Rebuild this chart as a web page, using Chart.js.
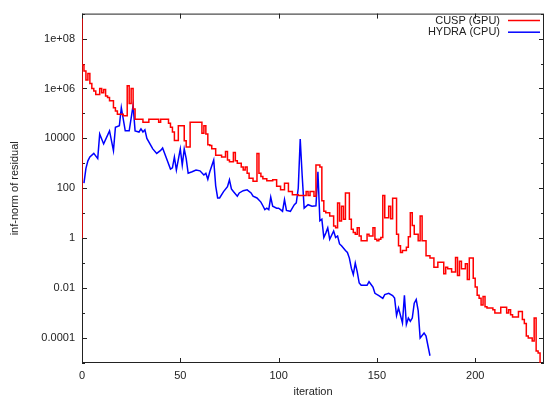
<!DOCTYPE html>
<html>
<head>
<meta charset="utf-8">
<script src="https://cdn.jsdelivr.net/npm/chart.js@4/dist/chart.umd.min.js"></script>
<style>
  body { margin: 0; background: #fff; }
  #residual-chart { display: block; }
</style>
</head>
<body>
<canvas id="residual-chart" width="546" height="401"></canvas>
<script>
// CUSP (GPU): residual per iteration (drawn as steps)
const cuspIter = [0, 0, 1, 2, 3, 4, 5, 6, 7, 9, 10, 11, 12, 13, 14, 16, 17, 18, 21, 23,
  24, 25, 26, 27, 31, 34, 39, 40, 44, 45, 46, 47, 49, 52, 53, 55, 61, 62, 63, 64,
  65, 66, 68, 71, 73, 74, 75, 77, 78, 79, 81, 82, 83, 84, 85, 87, 89, 90, 91, 92,
  94, 97, 99, 101, 103, 105, 107, 110, 114, 115, 116, 118, 119, 121, 122, 123, 124, 126, 128, 129,
  130, 131, 132, 133, 134, 136, 137, 138, 139, 140, 141, 142, 145, 146, 148, 149, 150, 151, 152, 153,
  154, 156, 157, 158, 160, 161, 162, 163, 165, 166, 167, 168, 169, 171, 172, 173, 175, 177, 179, 181,
  184, 185, 186, 188, 190, 191, 192, 193, 195, 196, 197, 199, 200, 201, 202, 203, 204, 205, 206, 209,
  210, 213, 216, 217, 218, 219, 222, 224, 225, 226, 227, 229, 230, 231, 232, 233, 234]
const cuspResidual = [1, 6.3e8, 8.7e6, 5e6, 2.2e6, 4e6, 1.6e6, 1e6, 8e5, 5.8e5, 1e6, 6.8e5, 9e5, 5e5, 4.3e5, 3.2e5, 1.7e5, 1.26e5, 9.3e4, 8e4,
  1.3e6, 2.5e5, 1e6, 1.5e5, 5.9e4, 4.4e4, 5.9e4, 4.4e4, 5.9e4, 4e4, 2.8e4, 1.8e4, 8.3e3, 3.2e4, 8e3, 4.5e3, 4.4e4, 1.6e4, 3.2e4, 1.5e4,
  5.5e3, 5.2e3, 3.8e3, 2.1e3, 1.8e3, 3e3, 1.35e3, 1.15e3, 2.7e3, 1.26e3, 1e3, 720, 540, 720, 400, 250, 190, 2.5e3, 400, 300,
  240, 200, 220, 120, 87, 160, 74, 55, 52, 74, 52, 74, 48, 850, 720, 32, 12, 10.5, 7.8, 3.1,
  2.6, 26, 4.9, 19, 5.8, 65, 5.8, 2.3, 1.7, 1.45, 2.6, 1.23, 0.8, 1.45, 1.23, 2.6, 0.9, 0.8, 0.9, 1.07,
  52, 6.6, 19, 6, 40, 1.45, 0.5, 0.27, 0.32, 0.43, 1.15, 10.5, 3.2, 1.45, 0.8, 7.8, 0.8, 0.2, 0.16, 0.069,
  0.11, 0.038, 0.069, 0.06, 0.044, 0.17, 0.032, 0.12, 0.06, 0.095, 0.022, 0.16, 0.025, 0.011, 5.2e-3, 3.9e-3, 2.1e-3, 4.6e-3, 1.8e-3, 1.6e-3,
  1.35e-3, 1e-3, 1.7e-3, 1e-3, 1.35e-3, 8.5e-4, 6.9e-4, 1.15e-3, 5.5e-4, 3.8e-4, 1.2e-4, 1e-4, 7.6e-5, 6.3e-4, 3e-5, 2.5e-5, 5e-6]

// HYDRA (CPU)
const hydraIter = [1, 2, 3, 4, 6, 8, 9, 11, 14, 16, 17, 19, 20, 22, 24, 26, 27, 29, 30, 31,
  32, 33, 35, 36, 38, 40, 41, 43, 45, 46, 47, 48, 50, 51, 52, 53, 54, 56, 58, 60,
  62, 63, 64, 65, 67, 68, 69, 70, 72, 74, 75, 76, 77, 79, 80, 82, 84, 86, 87, 89,
  91, 92, 93, 94, 95, 96, 97, 99, 100, 101, 102, 103, 104, 106, 108, 109, 110, 111, 112, 113,
  115, 117, 119, 120, 121, 122, 123, 124, 125, 126, 128, 129, 130, 131, 132, 134, 135, 136, 137, 138,
  139, 140, 141, 142, 145, 146, 148, 149, 151, 153, 154, 156, 158, 159, 160, 161, 163, 164, 165, 166,
  167, 168, 169, 170, 171, 172, 174, 175, 176, 177]
const hydraResidual = [160, 630, 1.26e3, 1.8e3, 2.5e3, 1.55e3, 1.5e4, 6e3, 2e4, 3.2e3, 2.8e4, 3.2e4, 1.7e5, 2e4, 2e4, 2.1e5, 2e4, 1.8e4, 2.4e4, 1.8e4,
  2.2e4, 1e4, 5.2e3, 3.8e3, 2.5e3, 3.3e3, 4.1e3, 1.55e3, 590, 660, 1.8e3, 540, 3.8e3, 850, 3.8e3, 1.55e3, 400, 460, 540, 500,
  340, 400, 230, 460, 1.35e3, 126, 41, 41, 74, 117, 220, 95, 74, 48, 65, 80, 87, 65, 48, 41,
  28, 20, 14, 16, 14, 44, 19, 16, 16, 14, 12, 35, 13, 12, 22, 26, 100, 9.5e3, 320, 16,
  22, 19, 20, 460, 5, 5.8, 1.07, 1.6, 2.6, 0.9, 1.95, 1.07, 1.23, 0.59, 0.5, 0.32, 0.27, 0.16, 0.063, 0.035,
  0.1, 0.045, 0.016, 0.013, 0.013, 0.018, 0.011, 6.2e-3, 5e-3, 3.9e-3, 5.5e-3, 6.2e-3, 5e-3, 4e-3, 8e-4, 1.6e-3, 4e-4, 5.2e-3, 3.5e-4, 6.3e-4,
  4.7e-4, 6.3e-4, 2.5e-3, 3.5e-3, 1.26e-3, 1e-4, 1.6e-4, 1.2e-4, 4.8e-5, 1.95e-5]

const xTicks = [0, 50, 100, 150, 200]
const yTicks = [1e-4, 1e-2, 1, 1e2, 1e4, 1e6, 1e8]
const yTickLabels = ['0.0001', '0.01', '1', '100', '10000', '1e+06', '1e+08']
const yMinorTicks = [1e-5, 1e-3, 1e-1, 10, 1e3, 1e5, 1e7, 1e9]

const ink = '#222'
Chart.defaults.font.family = '"Liberation Sans", Arial, sans-serif'
Chart.defaults.font.size = 11
Chart.defaults.color = ink

// gnuplot-like box with inward ticks on all four sides
const frame = {
  id: 'frame',
  beforeDatasetsDraw(chart) {
    const {ctx, chartArea: a, scales} = chart
    ctx.save()
    ctx.strokeStyle = ink
    ctx.lineWidth = 1
    ctx.strokeRect(a.left + 0.5, a.top + 0.5, a.right - a.left - 1, a.bottom - a.top - 1)
    ctx.beginPath()
    xTicks.forEach(v => {
      const px = Math.round(scales.x.getPixelForValue(v)) + 0.5
      ctx.moveTo(px, a.bottom); ctx.lineTo(px, a.bottom - 5)
      ctx.moveTo(px, a.top); ctx.lineTo(px, a.top + 5)
    })
    const yTick = (v, len) => {
      const py = Math.round(scales.y.getPixelForValue(v)) + 0.5
      ctx.moveTo(a.left, py); ctx.lineTo(a.left + len, py)
      ctx.moveTo(a.right, py); ctx.lineTo(a.right - len, py)
    }
    yTicks.forEach(v => yTick(v, 5))
    yMinorTicks.forEach(v => yTick(v, 3))
    ctx.stroke()
    ctx.restore()
  }
}

// key in the top right corner of the plot
const key = {
  id: 'key',
  afterDraw(chart) {
    const {ctx} = chart
    ctx.save()
    ctx.font = '11px "Liberation Sans", Arial, sans-serif'
    ctx.textAlign = 'right'
    ctx.textBaseline = 'middle'
    chart.data.datasets.forEach((ds, i) => {
      const y = 20.5 + i * 11.7
      ctx.fillStyle = ink
      ctx.fillText(ds.label, 500, y)
      ctx.strokeStyle = ds.borderColor
      ctx.lineWidth = 1.5
      ctx.beginPath()
      ctx.moveTo(508, y); ctx.lineTo(540, y)
      ctx.stroke()
    })
    ctx.restore()
  }
}

const pairs = (xs, ys) => xs.map((x, i) => ({x: x, y: ys[i]}))

new Chart(document.getElementById('residual-chart'), {
  type: 'line',
  data: {
    datasets: [{
      label: 'CUSP (GPU)',
      data: pairs(cuspIter, cuspResidual),
      borderColor: '#ff0000',
      borderWidth: 1.5,
      pointRadius: 0,
      stepped: 'after',
      fill: false
    }, {
      label: 'HYDRA (CPU)',
      data: pairs(hydraIter, hydraResidual),
      borderColor: '#0000ff',
      borderWidth: 1.5,
      pointRadius: 0,
      tension: 0,
      fill: false
    }]
  },
  options: {
    responsive: false,
    animation: false,
    layout: { padding: { top: 10, right: 2, left: 0, bottom: 0 } },
    plugins: {
      legend: { display: false },
      tooltip: { enabled: false }
    },
    scales: {
      x: {
        type: 'linear',
        min: 0,
        max: 235,
        afterBuildTicks: s => { s.ticks = xTicks.map(v => ({value: v})) },
        afterFit: s => { s.height = 38 },
        ticks: { padding: 6, maxRotation: 0, color: ink },
        grid: { display: false, drawTicks: false },
        border: { display: false },
        title: { display: true, text: 'iteration', color: ink, padding: { top: 4, bottom: 2 } }
      },
      y: {
        type: 'logarithmic',
        min: 1e-5,
        max: 1e9,
        afterBuildTicks: s => { s.ticks = yTicks.map(v => ({value: v})) },
        afterFit: s => { s.width = 82 },
        ticks: { padding: 7, color: ink, callback: (v, i) => yTickLabels[i] },
        grid: { display: false, drawTicks: false },
        border: { display: false },
        title: { display: true, text: 'inf-norm of residual', color: ink, padding: { top: 8, bottom: 0 } }
      }
    }
  },
  plugins: [frame, key]
})
</script>
</body>
</html>
